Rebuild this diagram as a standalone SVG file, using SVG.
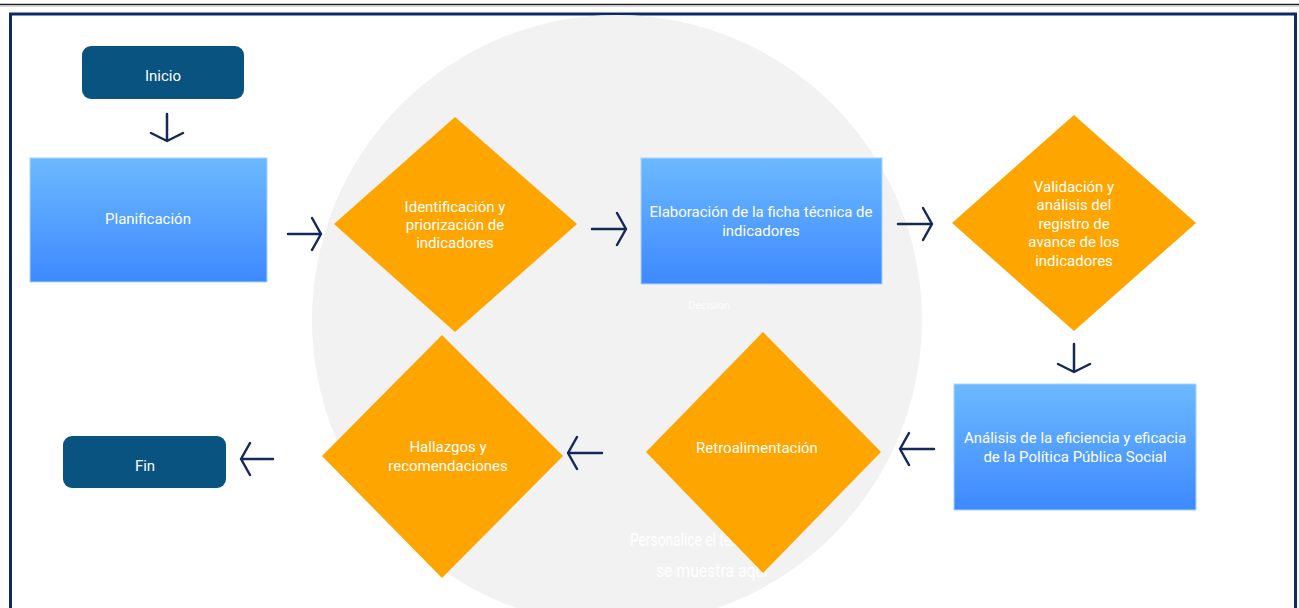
<svg xmlns="http://www.w3.org/2000/svg" width="1299" height="608" viewBox="0 0 1299 608">
<defs>
<linearGradient id="blue" x1="0" y1="0" x2="0" y2="1">
<stop offset="0" stop-color="#6cb9ff"/>
<stop offset="1" stop-color="#3d89ff"/>
</linearGradient>
<style>
.t{font-family:Roboto,"Liberation Sans",sans-serif;font-size:15px;fill:#ffffff;text-anchor:middle}
.term{fill:#08537f}
.proc{fill:url(#blue);stroke:#a9d3ff;stroke-width:1}
.dec{fill:#ffa500}
.arr{fill:none;stroke:#14285a;stroke-width:2.5;stroke-linecap:round;stroke-linejoin:round}
.ghost{font-family:Roboto,"Liberation Sans",sans-serif;fill:#ffffff}
</style>
</defs>
<rect width="1299" height="608" fill="#ffffff"/>
<line x1="0" y1="4.5" x2="1299" y2="4.5" stroke="#231f20" stroke-width="1.5"/>
<line x1="0" y1="6.2" x2="1299" y2="6.2" stroke="#c8c8c8" stroke-width="1"/>
<rect x="10.5" y="14" width="1285" height="610" fill="none" stroke="#0e2a66" stroke-width="3"/>
<circle cx="617" cy="320" r="305" fill="#f2f2f2"/>
<text class="ghost" x="709" y="309" font-size="11" text-anchor="middle" opacity="0.9">Decision</text>
<text class="ghost" x="630" y="546" font-size="18" textLength="120" lengthAdjust="spacingAndGlyphs">Personalice el texto</text>
<text class="ghost" x="656" y="577" font-size="18" textLength="112" lengthAdjust="spacingAndGlyphs">se muestra aquí</text>

<g id="connectors">
<path class="arr" d="M167 114V141M151 133L167 141L183 133"/>
<path class="arr" d="M288 234H321M312 218L321 234L312 250"/>
<path class="arr" d="M592 229H626M617 213L626 229L617 245"/>
<path class="arr" d="M898 224H932M923 208L932 224L923 240"/>
<path class="arr" d="M1074 344V372M1058 364L1074 372L1090 364"/>
<path class="arr" d="M934 449H900M909 433L900 449L909 465"/>
<path class="arr" d="M602 453H568M577 437L568 453L577 469"/>
<path class="arr" d="M273 459H241M250 443L241 459L250 475"/>
</g>

<g id="inicio">
<rect class="term" x="82" y="46" width="162" height="53" rx="9"/>
<text class="t" x="163" y="81">Inicio</text>
</g>
<g id="planificacion">
<rect class="proc" x="30" y="158" width="237" height="124"/>
<text class="t" x="148" y="224">Planificación</text>
</g>
<g id="identificacion">
<polygon class="dec" points="455,117 577,224 455,332 334,224"/>
<text class="t" x="455" y="212">Identificación y</text>
<text class="t" x="455" y="230">priorización de</text>
<text class="t" x="455" y="248">indicadores</text>
</g>
<g id="elaboracion">
<rect class="proc" x="641" y="158" width="241" height="126"/>
<text class="t" x="761" y="217">Elaboración de la ficha técnica de</text>
<text class="t" x="761" y="236">indicadores</text>
</g>
<g id="validacion">
<polygon class="dec" points="1074,115 1196,223 1074,331 952,223"/>
<text class="t" x="1074" y="192">Validación y</text>
<text class="t" x="1074" y="210">análisis del</text>
<text class="t" x="1074" y="229">registro de</text>
<text class="t" x="1074" y="247">avance de los</text>
<text class="t" x="1074" y="266">indicadores</text>
</g>
<g id="analisis">
<rect class="proc" x="954" y="384" width="242" height="126"/>
<text class="t" x="1075" y="443">Análisis de la eficiencia y eficacia</text>
<text class="t" x="1075" y="462">de la Política Pública Social</text>
</g>
<g id="retroalimentacion">
<polygon class="dec" points="763,332 881,452 763,573 646,452"/>
<text class="t" x="757" y="453">Retroalimentación</text>
</g>
<g id="hallazgos">
<polygon class="dec" points="442,335 563,456 442,578 322,456"/>
<text class="t" x="448" y="452">Hallazgos y</text>
<text class="t" x="448" y="471">recomendaciones</text>
</g>
<g id="fin">
<rect class="term" x="63" y="436" width="163" height="52" rx="9"/>
<text class="t" x="145" y="471">Fin</text>
</g>
</svg>
